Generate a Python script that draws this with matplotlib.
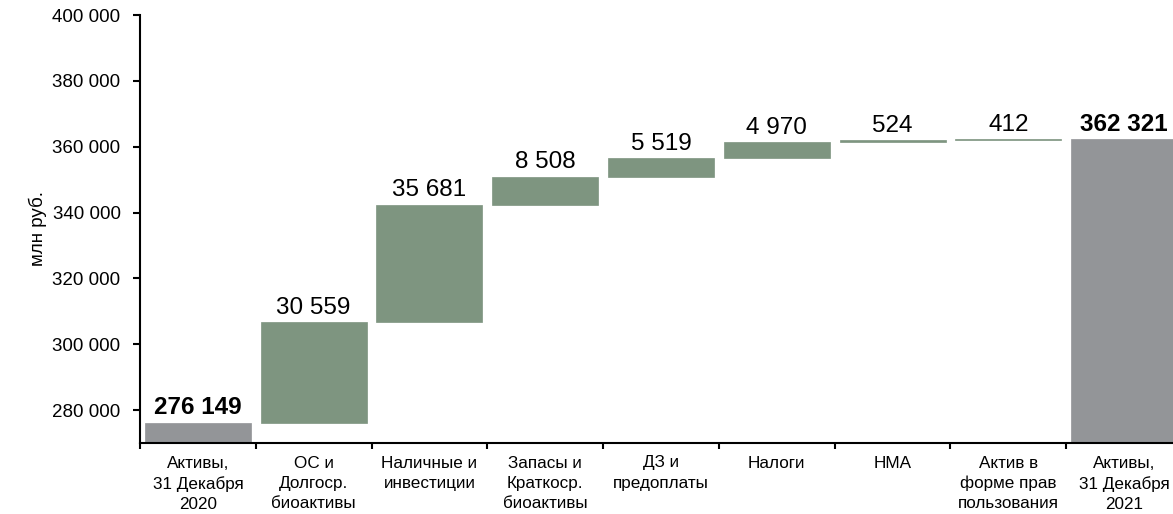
import numpy as np
import matplotlib.pyplot as plt
from matplotlib.ticker import FuncFormatter

''' DATA '''

categories = ['Активы,\n31 Декабря\n2020', 'ОС и\nДолгоср.\nбиоактивы', 'Наличные и\nинвестиции',
              'Запасы и\nКраткоср.\nбиоактивы', 'ДЗ и\nпредоплаты', 'Налоги', 'НМА',
              'Актив в\nформе прав\nпользования', 'Активы,\n31 Декабря\n2021']
start_total = 276149
changes = [30559, 35681, 8508, 5519, 4970, 524, 412]
end_total = 362321
value_labels = ['276 149', '30 559', '35 681', '8 508', '5 519', '4 970', '524', '412', '362 321']

''' CALCULATIONS '''

heights = [start_total] + changes + [end_total]
bottoms = [0] + list(start_total + np.cumsum([0] + changes[:-1])) + [0]
tops = [b + h for b, h in zip(bottoms, heights)]
colors = ['#939598'] + ['#7e9580'] * len(changes) + ['#939598']

''' PLOTTING '''

plt.rcParams['font.family'] = ['Liberation Sans', 'DejaVu Sans']

fig = plt.figure(figsize=(11.73, 5.14), dpi=100)
ax = fig.add_axes([140 / 1173, 71 / 514, 1042 / 1173, 428 / 514])

x = np.arange(len(categories))
ax.bar(x, heights, bottom=bottoms, width=0.915, color=colors, edgecolor=colors, linewidth=0.5)

for i, (t, lab) in enumerate(zip(tops, value_labels)):
    bold = i in (0, len(categories) - 1)
    ax.annotate(lab, (x[i], t), xytext=(0, 2.5), textcoords='offset points',
                ha='center', va='bottom', fontsize=17.5,
                fontweight='bold' if bold else 'normal')

ax.set_xlim(-0.5, len(categories) - 0.5)
ax.set_ylim(270000, 400000)
ax.set_yticks(np.arange(280000, 400001, 20000))
ax.yaxis.set_major_formatter(FuncFormatter(lambda v, p: f'{int(v):,}'.replace(',', ' ')))

ax.set_xticks(x)
ax.set_xticklabels(categories, fontsize=12.3, linespacing=1.42)
ax.set_xticks(np.arange(-0.5, len(categories)), minor=True)
ax.tick_params(axis='x', which='major', length=0, pad=9)
ax.tick_params(axis='x', which='minor', length=4, width=1.5)
ax.tick_params(axis='y', length=5, width=1.5, pad=9, labelsize=13.5)

ax.set_ylabel('млн руб.', fontsize=13.5, labelpad=4)

for s in ['top', 'right']:
    ax.spines[s].set_visible(False)
for s in ['left', 'bottom']:
    ax.spines[s].set_linewidth(1.5)

fig.savefig('out.png', dpi=100)
